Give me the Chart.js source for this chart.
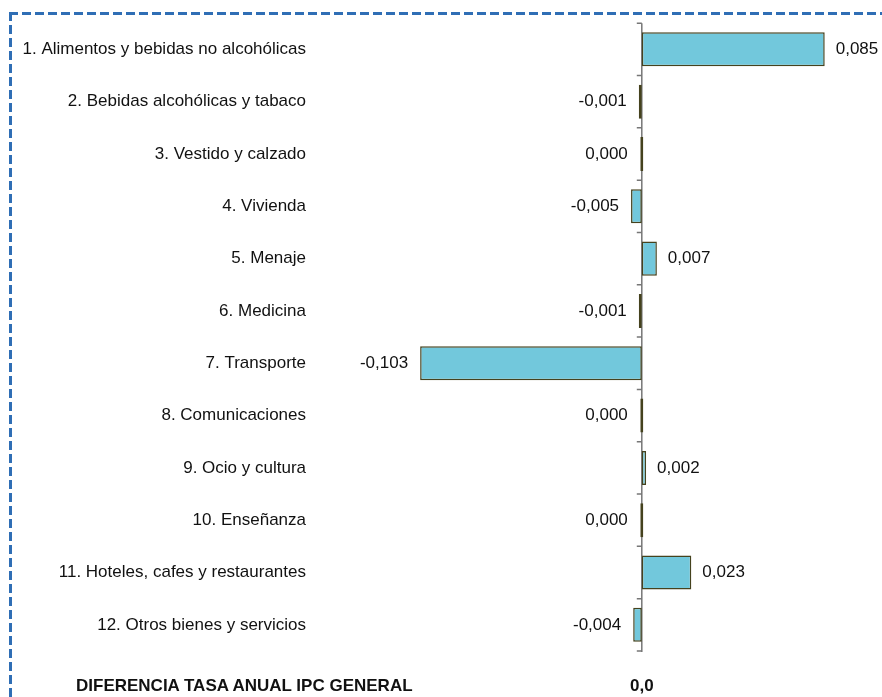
<!DOCTYPE html>
<html>
<head>
<meta charset="utf-8">
<script src="https://cdn.jsdelivr.net/npm/chart.js@4.4.1/dist/chart.umd.min.js"></script>
<style>
  html, body { margin: 0; padding: 0; background: #fff; }
  #wrap { position: relative; width: 882px; height: 697px; overflow: hidden; }
  #chart { position: absolute; left: 0; top: 0; }
  .dash-top { position: absolute; left: 9px; top: 12px; width: 880px; height: 3px;
    background: repeating-linear-gradient(90deg, #2f6eb5 0 9px, transparent 9px 13px); }
  .dash-left { position: absolute; left: 9px; top: 12px; width: 3px; height: 700px;
    background: repeating-linear-gradient(180deg, #2f6eb5 0 9px, transparent 9px 13px); }
  .foot { position: absolute; top: 676px; line-height: 20px; font: bold 17px "Liberation Sans", Arial, sans-serif; color: #111; }
</style>
</head>
<body>
<div id="wrap">
  <canvas id="chart" width="882" height="697"></canvas>
  <div class="dash-top"></div>
  <div class="dash-left"></div>
  <div class="foot" id="footLabel" style="left:76px;">DIFERENCIA TASA ANUAL IPC GENERAL</div>
  <div class="foot" id="footValue" style="left:630px;">0,0</div>
</div>
<script>
var categories = [
  '1. Alimentos y bebidas no alcohólicas',
  '2. Bebidas alcohólicas y tabaco',
  '3. Vestido y calzado',
  '4. Vivienda',
  '5. Menaje',
  '6. Medicina',
  '7. Transporte',
  '8. Comunicaciones',
  '9. Ocio y cultura',
  '10. Enseñanza',
  '11. Hoteles, cafes y restaurantes',
  '12. Otros bienes y servicios'
];
var values = [0.085, -0.001, 0.000, -0.005, 0.007, -0.001, -0.103, 0.000, 0.002, 0.000, 0.023, -0.004];

function fmt(v) {
  return v.toFixed(3).replace('.', ',');
}

// zero axis with small category ticks on its left
var zeroAxis = {
  id: 'zeroAxis',
  beforeDatasetsDraw: function (chart) {
    var ctx = chart.ctx, x = chart.scales.x, y = chart.scales.y;
    var x0 = x.getPixelForValue(0);
    var step = (y.bottom - y.top) / categories.length;
    ctx.save();
    ctx.strokeStyle = '#777';
    ctx.lineWidth = 1.5;
    ctx.beginPath();
    ctx.moveTo(x0, y.top);
    ctx.lineTo(x0, y.bottom + 1);
    for (var i = 0; i <= categories.length; i++) {
      var py = y.top + i * step;
      ctx.moveTo(x0 - 5, py);
      ctx.lineTo(x0, py);
    }
    ctx.stroke();
    ctx.restore();
  }
};

var valueLabels = {
  id: 'valueLabels',
  afterDatasetsDraw: function (chart) {
    var ctx = chart.ctx;
    var meta = chart.getDatasetMeta(0);
    var x0 = chart.scales.x.getPixelForValue(0);
    ctx.save();
    ctx.font = '17px "Liberation Sans", Arial, sans-serif';
    ctx.fillStyle = '#111';
    ctx.textBaseline = 'middle';
    meta.data.forEach(function (bar, i) {
      var v = values[i];
      if (v > 0) {
        ctx.textAlign = 'left';
        ctx.fillText(fmt(v), Math.max(bar.x, x0) + 11, bar.y);
      } else {
        ctx.textAlign = 'right';
        ctx.fillText(fmt(v), Math.min(bar.x, x0 - 2) - 12, bar.y);
      }
    });
    ctx.restore();
  }
};

var ctx = document.getElementById('chart').getContext('2d');
new Chart(ctx, {
  type: 'bar',
  data: {
    labels: categories,
    datasets: [{
      data: values,
      backgroundColor: '#72c8dc',
      borderColor: '#45421e',
      borderWidth: 1.5,
      borderSkipped: false,
      barPercentage: 0.65,
      categoryPercentage: 1,
      minBarLength: 3
    }]
  },
  options: {
    indexAxis: 'y',
    responsive: false,
    animation: false,
    layout: { padding: { top: 22, bottom: 46, right: 25, left: 0 } },
    plugins: {
      legend: { display: false },
      tooltip: { enabled: false }
    },
    scales: {
      x: {
        min: -0.15,
        max: 0.1,
        display: false
      },
      y: {
        offset: true,
        afterFit: function (axis) { axis.width = 319; },
        grid: { display: false, drawTicks: false },
        border: { display: false },
        ticks: {
          padding: 13,
          color: '#111',
          font: { family: '"Liberation Sans", Arial, sans-serif', size: 17 }
        }
      }
    }
  },
  plugins: [zeroAxis, valueLabels]
});
</script>
</body>
</html>
